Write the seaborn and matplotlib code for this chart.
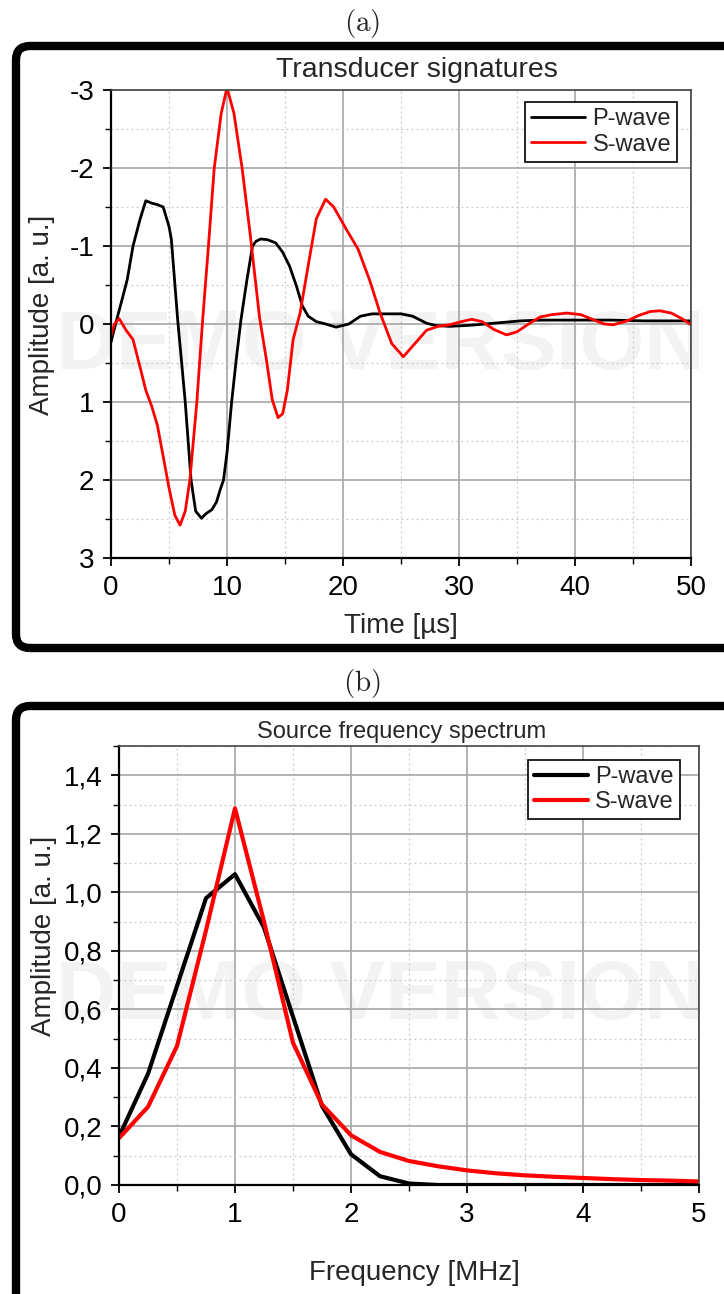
import numpy as np
import pandas as pd
import matplotlib
matplotlib.use('Agg')
import matplotlib.pyplot as plt
import seaborn as sns
from matplotlib.patches import FancyBboxPatch
from matplotlib.transforms import IdentityTransform
from matplotlib.ticker import MultipleLocator, FuncFormatter

# ---------------- data ----------------
series_names = ['P-wave', 'S-wave']

p_time = [0, 0.5, 1.0, 1.4, 1.9, 2.5, 3.0, 3.5, 4.0, 4.5, 5.0, 5.2, 5.75, 6.0, 6.4,
          6.9, 7.3, 7.8, 8.2, 8.7, 9.1, 9.4, 9.7, 10.0, 10.4, 10.8, 11.2, 11.7, 12.2,
          12.5, 12.9, 13.5, 14.2, 14.8, 15.4, 16.0, 16.5, 17.0, 17.7, 18.5, 19.4,
          20.5, 21.5, 22.5, 24.0, 25.0, 26.0, 27.2, 28.0, 29.2, 30.5, 31.5, 33.0,
          35.3, 37.0, 40.0, 43.0, 46.0, 50.0]
p_amp = [0.23, -0.06, -0.34, -0.57, -1.0, -1.34, -1.58, -1.55, -1.53, -1.5, -1.25,
         -1.09, -0.05, 0.35, 1.0, 2.0, 2.4, 2.49, 2.43, 2.38, 2.28, 2.13, 2.0, 1.65,
         1.0, 0.45, -0.05, -0.55, -1.0, -1.06, -1.09, -1.08, -1.04, -0.92, -0.74,
         -0.48, -0.23, -0.1, -0.03, 0.0, 0.04, 0.0, -0.1, -0.13, -0.13, -0.13, -0.1,
         -0.01, 0.02, 0.03, 0.02, 0.01, -0.01, -0.04, -0.05, -0.05, -0.05, -0.04, -0.04]

s_time = [0, 0.3, 0.7, 1.3, 1.9, 2.5, 3.0, 3.5, 4.0, 4.5, 5.0, 5.5, 5.95, 6.4, 6.8,
          7.1, 7.4, 7.9, 8.4, 8.9, 9.5, 10.0, 10.6, 11.3, 12.0, 12.8, 13.4, 13.9,
          14.4, 14.8, 15.2, 15.7, 16.3, 17.0, 17.7, 18.5, 19.2, 20.3, 21.3, 22.3,
          23.2, 24.2, 25.2, 26.2, 27.2, 28.2, 29.2, 30.2, 31.1, 32.0, 33.0, 34.1,
          35.0, 36.0, 37.0, 38.0, 39.3, 40.5, 41.5, 42.5, 43.3, 44.5, 45.5, 46.5,
          47.3, 48.3, 49.2, 50.0]
s_amp = [0.15, 0.0, -0.07, 0.08, 0.2, 0.55, 0.85, 1.05, 1.3, 1.7, 2.1, 2.45, 2.58,
         2.4, 2.0, 1.5, 1.0, -0.05, -1.0, -2.0, -2.7, -3.03, -2.7, -2.0, -1.15,
         -0.09, 0.46, 0.97, 1.2, 1.15, 0.85, 0.2, -0.14, -0.75, -1.35, -1.6, -1.5,
         -1.21, -0.96, -0.56, -0.14, 0.25, 0.42, 0.25, 0.08, 0.03, 0.01, -0.03,
         -0.06, -0.03, 0.07, 0.14, 0.1, 0.0, -0.09, -0.12, -0.14, -0.12, -0.06,
         0.0, 0.01, -0.04, -0.11, -0.16, -0.17, -0.14, -0.07, 0.01]

freq = [0.0, 0.25, 0.5, 0.75, 1.0, 1.25, 1.5, 1.75, 2.0, 2.25, 2.5, 2.75, 3.0,
        3.25, 3.5, 3.75, 4.0, 4.25, 4.5, 4.75, 5.0]
p_spec = [0.165, 0.38, 0.68, 0.98, 1.062, 0.88, 0.575, 0.27, 0.105, 0.03, 0.005,
          0.0, 0.0, 0.0, 0.0, 0.0, 0.0, 0.0, 0.0, 0.0, 0.0]
s_spec = [0.16, 0.267, 0.475, 0.87, 1.287, 0.9, 0.486, 0.275, 0.17, 0.113, 0.082,
          0.064, 0.05, 0.04, 0.033, 0.028, 0.024, 0.02, 0.017, 0.015, 0.012]

top_x_ticks = [0, 10, 20, 30, 40, 50]
top_y_ticks = [-3, -2, -1, 0, 1, 2, 3]
bot_x_ticks = [0, 1, 2, 3, 4, 5]
bot_y_ticks = [0.0, 0.2, 0.4, 0.6, 0.8, 1.0, 1.2, 1.4]

# ---------------- style ----------------
sns.set_style('white')
plt.rcParams['font.family'] = ['Liberation Sans', 'DejaVu Sans']
plt.rcParams['axes.unicode_minus'] = False
plt.rcParams['mathtext.fontset'] = 'cm'

W, H = 724, 1294
fig = plt.figure(figsize=(W / 100, H / 100), dpi=100)
fig.patch.set_facecolor('white')


def px_axes(l, t, r, b):
    return fig.add_axes([l / W, 1 - b / H, (r - l) / W, (b - t) / H])


# rounded black frames
for (l, t, r, b) in [(16, 46, 750, 648), (16, 706, 750, 1330)]:
    fig.add_artist(FancyBboxPatch((l, H - b), r - l, b - t,
                                  boxstyle='round,pad=0,rounding_size=14',
                                  transform=IdentityTransform(), fill=False,
                                  edgecolor='black', linewidth=6, zorder=-2))

# panel letters
fig.text(362 / W, 1 - 23 / H, r'$\mathrm{(a)}$', ha='center', va='center', fontsize=21)
fig.text(362 / W, 1 - 684 / H, r'$\mathrm{(b)}$', ha='center', va='center', fontsize=21)

# watermarks
for yc in (347, 997):
    fig.text(380 / W, 1 - yc / H, 'DEMO VERSION', ha='center', va='center',
             fontsize=60, fontweight='bold', color='#f3f3f3', zorder=-1)

ax1 = px_axes(111, 90, 691, 558)
ax2 = px_axes(119, 746, 699, 1185)
palette = {'P-wave': 'black', 'S-wave': 'red'}

df_sig = pd.concat([
    pd.DataFrame({'t': p_time, 'amp': p_amp, 'wave': series_names[0]}),
    pd.DataFrame({'t': s_time, 'amp': s_amp, 'wave': series_names[1]}),
])
sns.lineplot(data=df_sig, x='t', y='amp', hue='wave', hue_order=series_names,
             palette=palette, estimator=None, linewidth=2.0, ax=ax1, legend=False)

df_spec = pd.concat([
    pd.DataFrame({'f': freq, 'amp': p_spec, 'wave': series_names[0]}),
    pd.DataFrame({'f': freq, 'amp': s_spec, 'wave': series_names[1]}),
])
sns.lineplot(data=df_spec, x='f', y='amp', hue='wave', hue_order=series_names,
             palette=palette, estimator=None, linewidth=3.0, ax=ax2, legend=False)


def style_axes(ax, xmaj, xmin, ymaj, ymin):
    ax.set_facecolor('none')
    ax.xaxis.set_major_locator(MultipleLocator(xmaj))
    ax.xaxis.set_minor_locator(MultipleLocator(xmin))
    ax.yaxis.set_major_locator(MultipleLocator(ymaj))
    ax.yaxis.set_minor_locator(MultipleLocator(ymin))
    ax.grid(True, which='major', color='#a6a6a6', linewidth=1.2, linestyle='-')
    ax.grid(True, which='minor', color='#c8c8c8', linewidth=0.9, linestyle=(0, (1.5, 2.5)))
    ax.set_axisbelow(True)
    ax.tick_params(which='major', direction='out', length=6, width=1.3,
                   color='black', labelsize=20, pad=6, labelcolor='black',
                   bottom=True, left=True, top=False, right=False)
    ax.tick_params(which='minor', direction='out', length=4, width=1.0,
                   color='black', bottom=True, left=True, top=False, right=False)
    for s in ['left', 'bottom']:
        ax.spines[s].set_color('black')
        ax.spines[s].set_linewidth(1.6)
    for s in ['top', 'right']:
        ax.spines[s].set_color('#444444')
        ax.spines[s].set_linewidth(1.2)
        ax.spines[s].set_visible(True)


style_axes(ax1, 10, 5, 1, 0.5)
ax1.set_xlim(0, 50)
ax1.set_ylim(3, -3)
ax1.set_xticks(top_x_ticks)
ax1.set_yticks(top_y_ticks)
ax1.yaxis.set_major_formatter(FuncFormatter(lambda v, p: f'{int(round(v))}'))
ax1.set_xlabel('Time [µs]', fontsize=20)
ax1.set_ylabel('Amplitude [a. u.]', fontsize=20)
ax1.xaxis.set_label_coords(0.5, -0.118)
ax1.yaxis.set_label_coords(-0.097, 0.52)
fig.text(417 / W, 1 - 70 / H, 'Transducer signatures', ha='center', va='center', fontsize=20.5)

style_axes(ax2, 1, 0.5, 0.2, 0.1)
ax2.set_xlim(0, 5)
ax2.set_ylim(0, 1.5)
ax2.set_xticks(bot_x_ticks)
ax2.set_yticks(bot_y_ticks)
ax2.yaxis.set_major_formatter(FuncFormatter(lambda v, p: f'{v:.1f}'.replace('.', ',')))
ax2.set_xlabel('Frequency [MHz]', fontsize=20)
ax2.set_ylabel('Amplitude [a. u.]', fontsize=20)
ax2.xaxis.set_label_coords(0.51, -0.171)
ax2.yaxis.set_label_coords(-0.107, 0.567)
fig.text(402 / W, 1 - 732 / H, 'Source frequency spectrum', ha='center', va='center', fontsize=17)

for ax, anchor, lw in [(ax1, (0.976, 0.974), 2.0), (ax2, (0.967, 0.968), 3.0)]:
    leg = ax.legend(ax.lines[:2], series_names, loc='upper right', bbox_to_anchor=anchor,
                    borderaxespad=0, fontsize=17, frameon=True, fancybox=False,
                    framealpha=1, edgecolor='black', handlelength=2.3,
                    handletextpad=0.3, labelspacing=0.15, borderpad=0.25)
    leg.get_frame().set_linewidth(1.2)
    for h in leg.get_lines():
        h.set_linewidth(lw)

fig.savefig('out.png', dpi=100)
